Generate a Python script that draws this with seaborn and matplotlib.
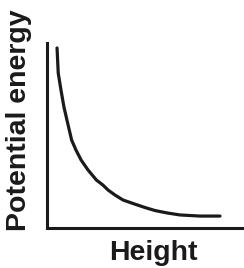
import pandas as pd
import matplotlib
matplotlib.use("Agg")
import matplotlib.pyplot as plt
import seaborn as sns

# values (arbitrary units)
height = [0.51, 0.57, 0.71, 0.86, 1.07, 1.25, 1.47, 1.73, 2.08, 2.51, 2.84,
          3.10, 3.45, 3.86, 4.37, 4.98, 5.48, 6.09, 6.75, 7.77, 8.78]
energy = [9.73, 8.37, 7.45, 6.53, 5.56, 4.74, 4.20, 3.66, 3.12, 2.57, 2.30,
          2.03, 1.76, 1.49, 1.30, 1.08, 0.92, 0.79, 0.68, 0.62, 0.62]

df = pd.DataFrame({"Height": height, "Potential energy": energy})

sns.set_style("white")
plt.rcParams["font.family"] = ["Liberation Sans", "DejaVu Sans"]

fig = plt.figure(figsize=(2.44, 2.68), dpi=100)
ax = fig.add_axes([47 / 244, 1 - 227.5 / 268, 1 - 47 / 244, (227.5 - 43) / 268])

sns.lineplot(data=df, x="Height", y="Potential energy", color="#1a1a1a",
             linewidth=2.3, sort=False, ax=ax)

ax.set_xlim(0, 10)
ax.set_ylim(0, 10)
ax.set_xticks([])
ax.set_yticks([])
ax.set_xlabel("")
ax.set_ylabel("")
sns.despine(ax=ax)
for side in ["left", "bottom"]:
    ax.spines[side].set_linewidth(2.2)
    ax.spines[side].set_color("#1a1a1a")

fig.text(153 / 244, 1 - 252.5 / 268, "Height", ha="center", va="center",
         fontsize=20.5, fontweight="bold", color="#1a1a1a")
fig.text(19 / 244, 1 - 120 / 268, "Potential energy", ha="center", va="center",
         rotation=90, fontsize=20.5, fontweight="bold", color="#1a1a1a")

fig.savefig("out.png", dpi=100)
